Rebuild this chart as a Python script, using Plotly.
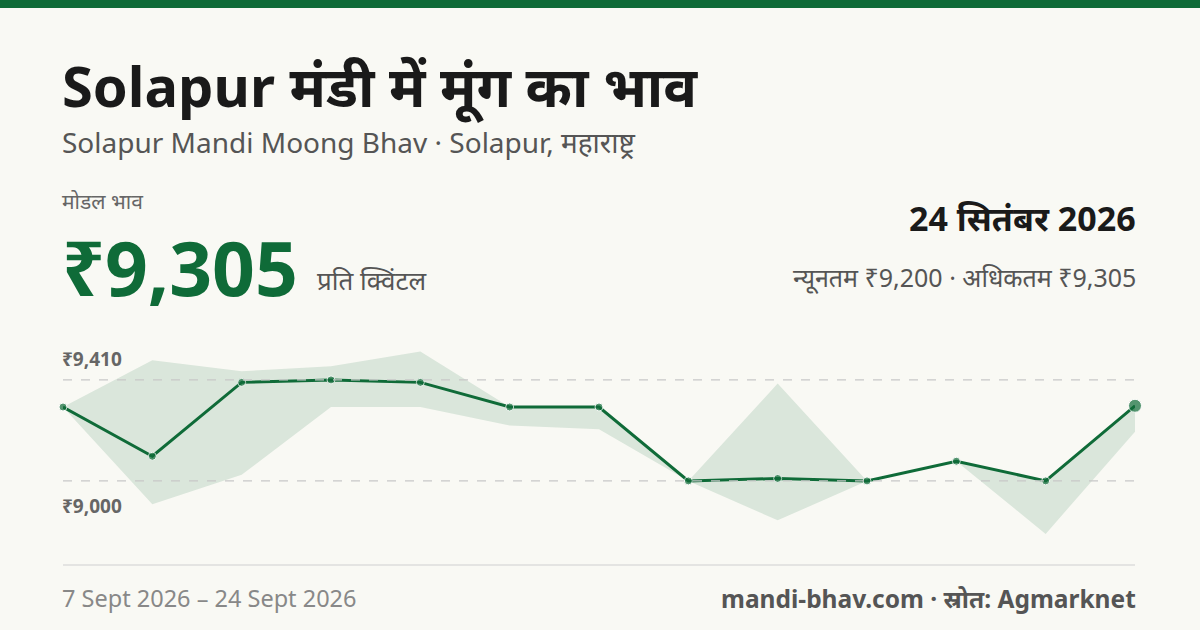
import plotly.graph_objects as go

dates = ["7 Sept","8 Sept","9 Sept","10 Sept","11 Sept","12 Sept","14 Sept","15 Sept","16 Sept","17 Sept","18 Sept","19 Sept","24 Sept"]
modal = [9300, 9100, 9400, 9410, 9400, 9300, 9300, 9000, 9010, 9000, 9080, 9000, 9305]
max_p = [9300, 9490, 9445, 9465, 9525, 9300, 9300, 9000, 9395, 9000, 9080, 9000, 9305]
min_p = [9300, 8905, 9025, 9300, 9300, 9225, 9210, 9000, 8840, 9000, 9080, 8785, 9200]
grid_vals = [9410, 9000]
grid_labels = ["₹9,410", "₹9,000"]

GREEN = "#0f6b38"
F = "Noto Sans, Noto Sans Devanagari, sans-serif"
x = list(range(len(dates)))

fig = go.Figure()
fig.add_trace(go.Scatter(x=x, y=max_p, mode="lines", line=dict(width=0), hoverinfo="skip"))
fig.add_trace(go.Scatter(x=x, y=min_p, mode="lines", line=dict(width=0), fill="tonexty",
                         fillcolor="rgba(15,107,56,0.13)", hoverinfo="skip"))
fig.add_trace(go.Scatter(x=x, y=modal, mode="lines+markers", line=dict(color=GREEN, width=3),
                         marker=dict(size=[8]*12+[13], color=GREEN), cliponaxis=False))

for i, (v, t) in enumerate(zip(grid_vals, grid_labels)):
    fig.add_shape(type="line", xref="paper", x0=0, x1=1, y0=v, y1=v,
                  line=dict(color="#c8c8c8", width=1.2, dash="dash"))
    above = i == 0
    fig.add_annotation(xref="paper", x=0, y=v, text=f"<b>{t}</b>", showarrow=False,
                       xanchor="left", yanchor="bottom" if above else "top",
                       yshift=6 if above else -10, xshift=-3,
                       font=dict(family=F, size=19, color="#666"))

def txt(x, y, t, size, color, xa="left", ya="middle"):
    fig.add_annotation(xref="paper", yref="paper", x=x, y=y, text=t, showarrow=False,
                       xanchor=xa, yanchor=ya, xshift=(-3 if xa == "left" else 3),
                       font=dict(family=F, size=size, color=color))

W, H = 1200, 630
L, R, T, B = 63, 65, 340, 70
def px(xp): return (xp - L) / (W - L - R)
def py(yp): return (H - B - yp) / (H - T - B)

txt(px(63), py(85), "<b>Solapur मंडी में मूंग का भाव</b>", 56, "#1a1a1a")
txt(px(63), py(142), "Solapur Mandi Moong Bhav · Solapur, महाराष्ट्र", 28, "#555")
txt(px(63), py(201), "मोडल भाव", 21, "#666")
txt(px(63), py(267), "<b>₹9,305</b>", 75, GREEN)
txt(px(318), py(280), "प्रति क्विंटल", 26, "#555")
txt(px(1135), py(218), "<b>24 सितंबर 2026</b>", 34, "#1a1a1a", xa="right")
txt(px(1135), py(277), "न्यूनतम ₹9,200 · अधिकतम ₹9,305", 25, "#555", xa="right")
txt(px(63), py(598), "7 Sept 2026 – 24 Sept 2026", 23.5, "#888")
txt(px(1135), py(598), "<b>mandi-bhav.com · स्रोत: Agmarknet</b>", 24.5, "#555", xa="right")

fig.add_shape(type="rect", xref="paper", yref="paper", x0=px(0), x1=px(1200), y0=py(0), y1=py(8),
              fillcolor=GREEN, line=dict(width=0))
fig.add_shape(type="line", xref="paper", yref="paper", x0=0, x1=1, y0=py(565), y1=py(565),
              line=dict(color="#dddddd", width=1.5))

fig.update_layout(width=W, height=H, margin=dict(l=L, r=R, t=T, b=B),
                  paper_bgcolor="#f9f9f4", plot_bgcolor="#f9f9f4", showlegend=False,
                  xaxis=dict(range=[0, 12], visible=False),
                  yaxis=dict(range=[8679, 9572], visible=False))
fig.write_html("out.html", config={"displayModeBar": False},
               post_script="document.body.style.margin='0';document.body.style.background='#f9f9f4';")
